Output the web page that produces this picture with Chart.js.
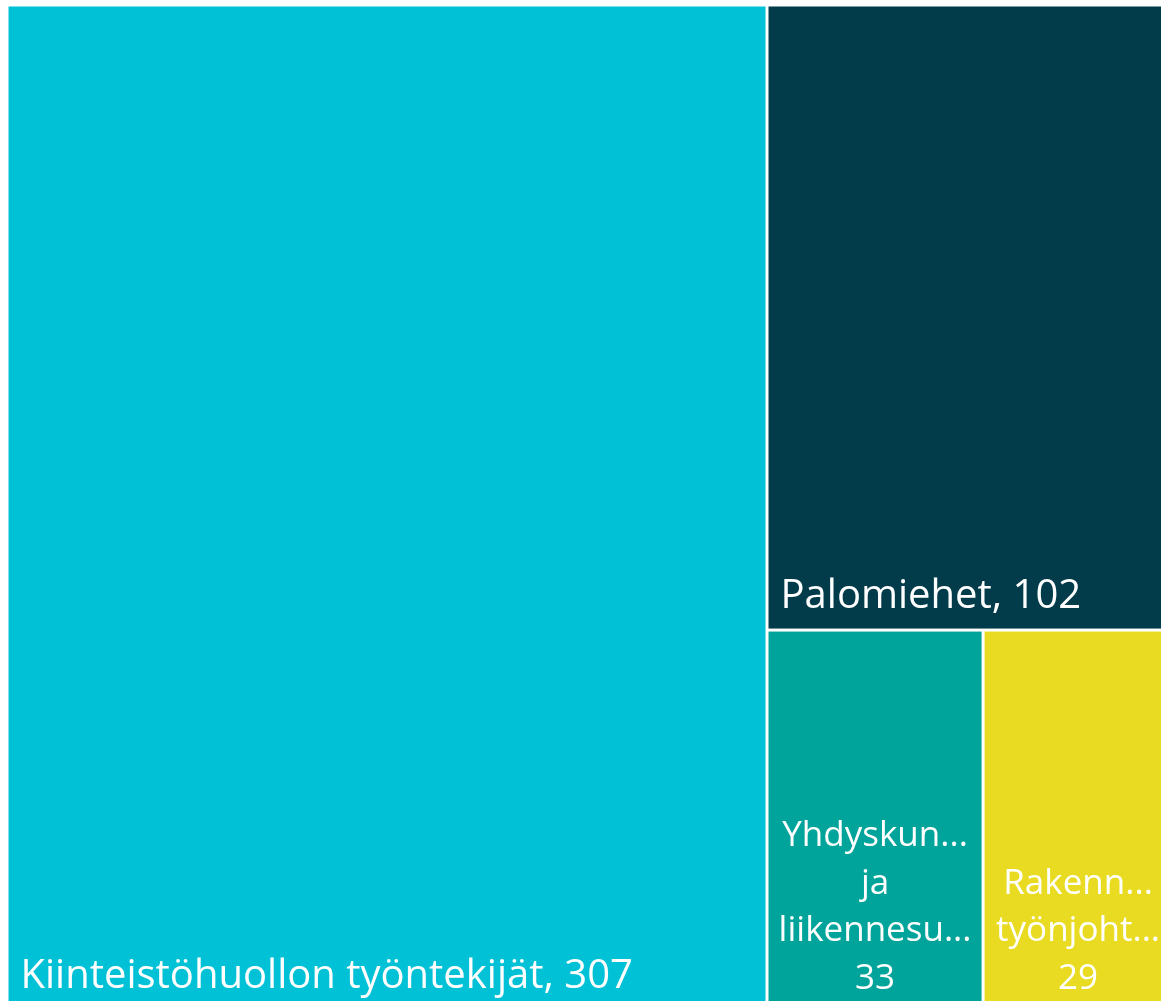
<!DOCTYPE html>
<html>
<head>
<meta charset="utf-8">
<script src="https://cdn.jsdelivr.net/npm/chart.js@4/dist/chart.umd.min.js"></script>
<style>
  html, body { margin: 0; padding: 0; background: #fff; overflow: hidden; }
  #wrap { position: absolute; left: 7px; top: 5px; width: 1166px; height: 1005px; }
</style>
</head>
<body>
<div id="wrap"><canvas id="treemap"></canvas></div>
<script>
// Ammattiryhmät ja lukumäärät (nimet näkyvässä, lyhennetyssä muodossa)
const categories = ['Kiinteistöhuollon työntekijät', 'Palomiehet', 'Yhdyskun... ja liikennesu...', 'Rakenn... työnjoht...'];
const values = [307, 102, 33, 29];
const colors = ['#00C1D5', '#023C4B', '#00A49A', '#E9DB22'];

const FONT_BIG = '40px "Open Sans", "Noto Sans", sans-serif';
const FONT_SMALL = '35px "Open Sans", "Noto Sans", sans-serif';
const GAP = 1.5;

// Squarify-asettelu yksikköneliössä (0..1), kuvasuhde annetaan parametrina
function squarify(vals, aspect) {
    const total = vals.reduce((a, b) => a + b, 0);
    const items = vals.map((v, i) => ({ i, area: v / total * aspect }));
    const out = [];
    let x = 0, y = 0, w = aspect, h = 1;
    let row = [];
    const worst = (r, side) => {
        const s = r.reduce((a, b) => a + b.area, 0);
        let m = 0;
        r.forEach(it => {
            const len = it.area / (s / side);
            const thick = s / side;
            m = Math.max(m, Math.max(len / thick, thick / len));
        });
        return m;
    };
    const layRow = (r) => {
        const s = r.reduce((a, b) => a + b.area, 0);
        if (w >= h) {
            const cw = s / h;
            let cy = y;
            r.forEach(it => {
                const ch = it.area / cw;
                out[it.i] = { x0: x, x1: x + cw, y0: cy, y1: cy + ch };
                cy += ch;
            });
            x += cw; w -= cw;
        } else {
            const rh = s / w;
            let cx = x;
            r.forEach(it => {
                const rw = it.area / rh;
                out[it.i] = { x0: cx, x1: cx + rw, y0: y, y1: y + rh };
                cx += rw;
            });
            y += rh; h -= rh;
        }
    };
    items.forEach(it => {
        const side = Math.min(w, h);
        if (row.length === 0 || worst(row.concat([it]), side) <= worst(row, side)) {
            row.push(it);
        } else {
            layRow(row);
            row = [it];
        }
    });
    if (row.length) layRow(row);
    // normalisoidaan x välille 0..1
    return out.map(r => ({ x0: r.x0 / aspect, x1: r.x1 / aspect, y0: r.y0, y1: r.y1 }));
}

const treemapPlugin = {
    id: 'treemapPlugin',
    beforeDatasetsDraw(chart) {
        const { ctx, chartArea, scales } = chart;
        const aspect = chartArea.width / chartArea.height;
        const rects = squarify(values, aspect);
        ctx.save();
        rects.forEach((r, i) => {
            const left = scales.x.getPixelForValue(r.x0) + GAP;
            const right = scales.x.getPixelForValue(r.x1) - GAP;
            const top = scales.y.getPixelForValue(r.y0) + GAP;
            const bottom = scales.y.getPixelForValue(r.y1) - GAP;
            ctx.fillStyle = colors[i];
            ctx.fillRect(left, top, right - left, bottom - top);

            ctx.fillStyle = '#ffffff';
            ctx.textBaseline = 'alphabetic';
            const full = categories[i] + ', ' + values[i];
            ctx.font = FONT_BIG;
            if (ctx.measureText(full).width <= right - left - 24) {
                ctx.textAlign = 'left';
                ctx.fillText(full, left + 12, bottom - 21);
            } else {
                // sana per rivi, arvo viimeiselle riville
                ctx.font = FONT_SMALL;
                ctx.textAlign = 'center';
                const lines = categories[i].split(' ');
                lines.push(String(values[i]));
                const cx = (left + right) / 2;
                lines.forEach((ln, k) => {
                    ctx.fillText(ln, cx, bottom - 20 - (lines.length - 1 - k) * 47.5);
                });
            }
        });
        ctx.restore();
    }
};

new Chart(document.getElementById('treemap'), {
    type: 'scatter',
    data: { datasets: [{ data: [], pointRadius: 0 }] },
    options: {
        responsive: true,
        maintainAspectRatio: false,
        animation: false,
        layout: { padding: 0 },
        plugins: { legend: { display: false }, tooltip: { enabled: false } },
        scales: {
            x: { type: 'linear', min: 0, max: 1, display: false },
            y: { type: 'linear', min: 0, max: 1, reverse: true, display: false }
        }
    },
    plugins: [treemapPlugin]
});
</script>
</body>
</html>
